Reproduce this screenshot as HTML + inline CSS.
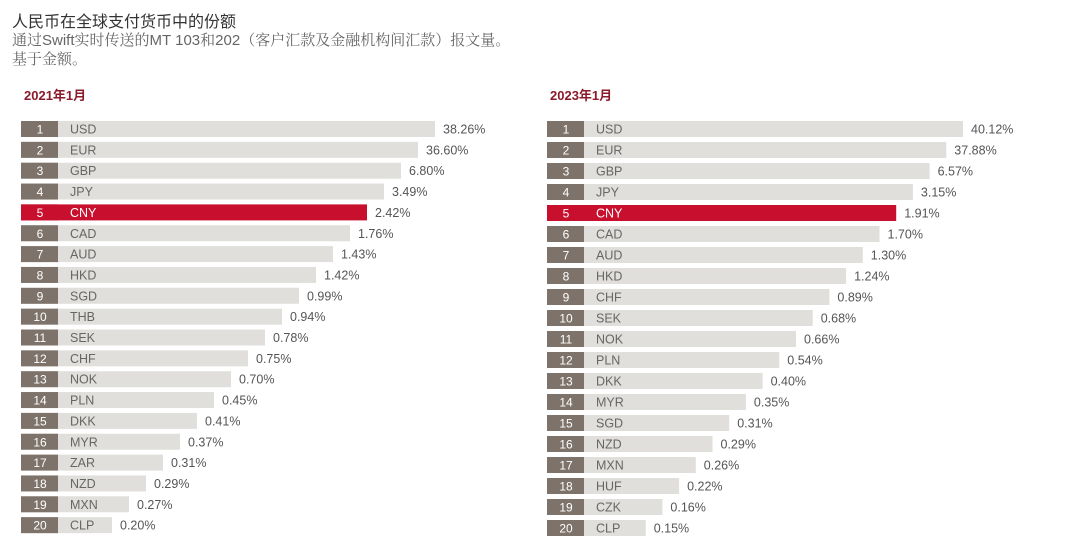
<!DOCTYPE html>
<html><head><meta charset="utf-8"><style>
body{margin:0;width:1080px;height:554px;background:#fff;overflow:hidden;font-family:"Liberation Sans","Noto Sans CJK SC",sans-serif}
.t{position:absolute;left:12px;white-space:nowrap}
</style></head><body>
<div class="t" style="top:8px;font-size:16px;color:#333">人民币在全球支付货币中的份额</div>
<div class="t" style="top:29px;font-size:15px;color:#666;font-family:'Liberation Sans','Noto Serif CJK SC',serif">通过<span style="font-family:'Liberation Sans'">Swift</span>实时传送的<span style="font-family:'Liberation Sans'">MT 103</span>和<span style="font-family:'Liberation Sans'">202</span>（客户汇款及金融机构间汇款）报文量。</div>
<div class="t" style="top:48px;font-size:15px;color:#666;font-family:'Liberation Serif','Noto Serif CJK SC',serif">基于金额。</div>
<svg id="chart" width="1080" height="554" style="position:absolute;left:0;top:0"></svg>
<script>
const codes2021=["USD","EUR","GBP","JPY","CNY","CAD","AUD","HKD","SGD","THB","SEK","CHF","NOK","PLN","DKK","MYR","ZAR","NZD","MXN","CLP"];
const values2021=[38.26,36.60,6.80,3.49,2.42,1.76,1.43,1.42,0.99,0.94,0.78,0.75,0.70,0.45,0.41,0.37,0.31,0.29,0.27,0.20];
const codes2023=["USD","EUR","GBP","JPY","CNY","CAD","AUD","HKD","CHF","SEK","NOK","PLN","DKK","MYR","SGD","NZD","MXN","HUF","CZK","CLP"];
const values2023=[40.12,37.88,6.57,3.15,1.91,1.70,1.30,1.24,0.89,0.68,0.66,0.54,0.40,0.35,0.31,0.29,0.26,0.22,0.16,0.15];
const NS="http://www.w3.org/2000/svg";
const svg=document.getElementById('chart');
function mk(tag,attrs,parent){const e=document.createElementNS(NS,tag);for(const k in attrs)e.setAttribute(k,attrs[k]);(parent||svg).appendChild(e);return e;}
function panel(id,title,codes,values,x0,y0,step,maxLen,lenStep){
  const g=mk('g',{});
  
  
  const tt=mk('text',{x:x0+3,y:100,'font-size':13,'font-weight':'bold',fill:'#8b1a2b'},g);
  tt.textContent=title;
  
  
  // rank by value (descending)
  const order=values.map((v,i)=>i).sort((a,b)=>values[b]-values[a]);
  const rankOf=[];order.forEach((idx,r)=>rankOf[idx]=r);
  values.forEach((v,i)=>{
    const r=rankOf[i];
    const yc=y0+r*step;
    const len=maxLen-r*lenStep;
    const red=codes[i]==="CNY";
    const bar=mk('rect',{x:x0,y:yc-8,width:len,height:16,fill:red?'#c8102e':'#e0dfdc'},g);
    
    
    const rb=mk('rect',{x:x0,y:yc-8,width:37,height:16,fill:red?'#c8102e':'#7d736a'},g);
    
    
    const rt=mk('text',{x:x0+19,y:yc+4.5,'font-size':12,fill:'#fff','text-anchor':'middle'},g);
    rt.textContent=r+1;
    
    
    const ct=mk('text',{x:x0+49,y:yc+4.5,'font-size':12.5,fill:red?'#fff':'#666'},g);
    ct.textContent=codes[i];
    
    
    const vt=mk('text',{x:x0+len+8,y:yc+4.5,'font-size':12.5,fill:'#555'},g);
    vt.textContent=v.toFixed(2)+'%';
    
    
  });
}
panel('jan-2021','2021年1月',codes2021,values2021,21,129,20.85,414,17);
panel('jan-2023','2023年1月',codes2023,values2023,547,129,21,416,16.7);
</script>
</body></html>
